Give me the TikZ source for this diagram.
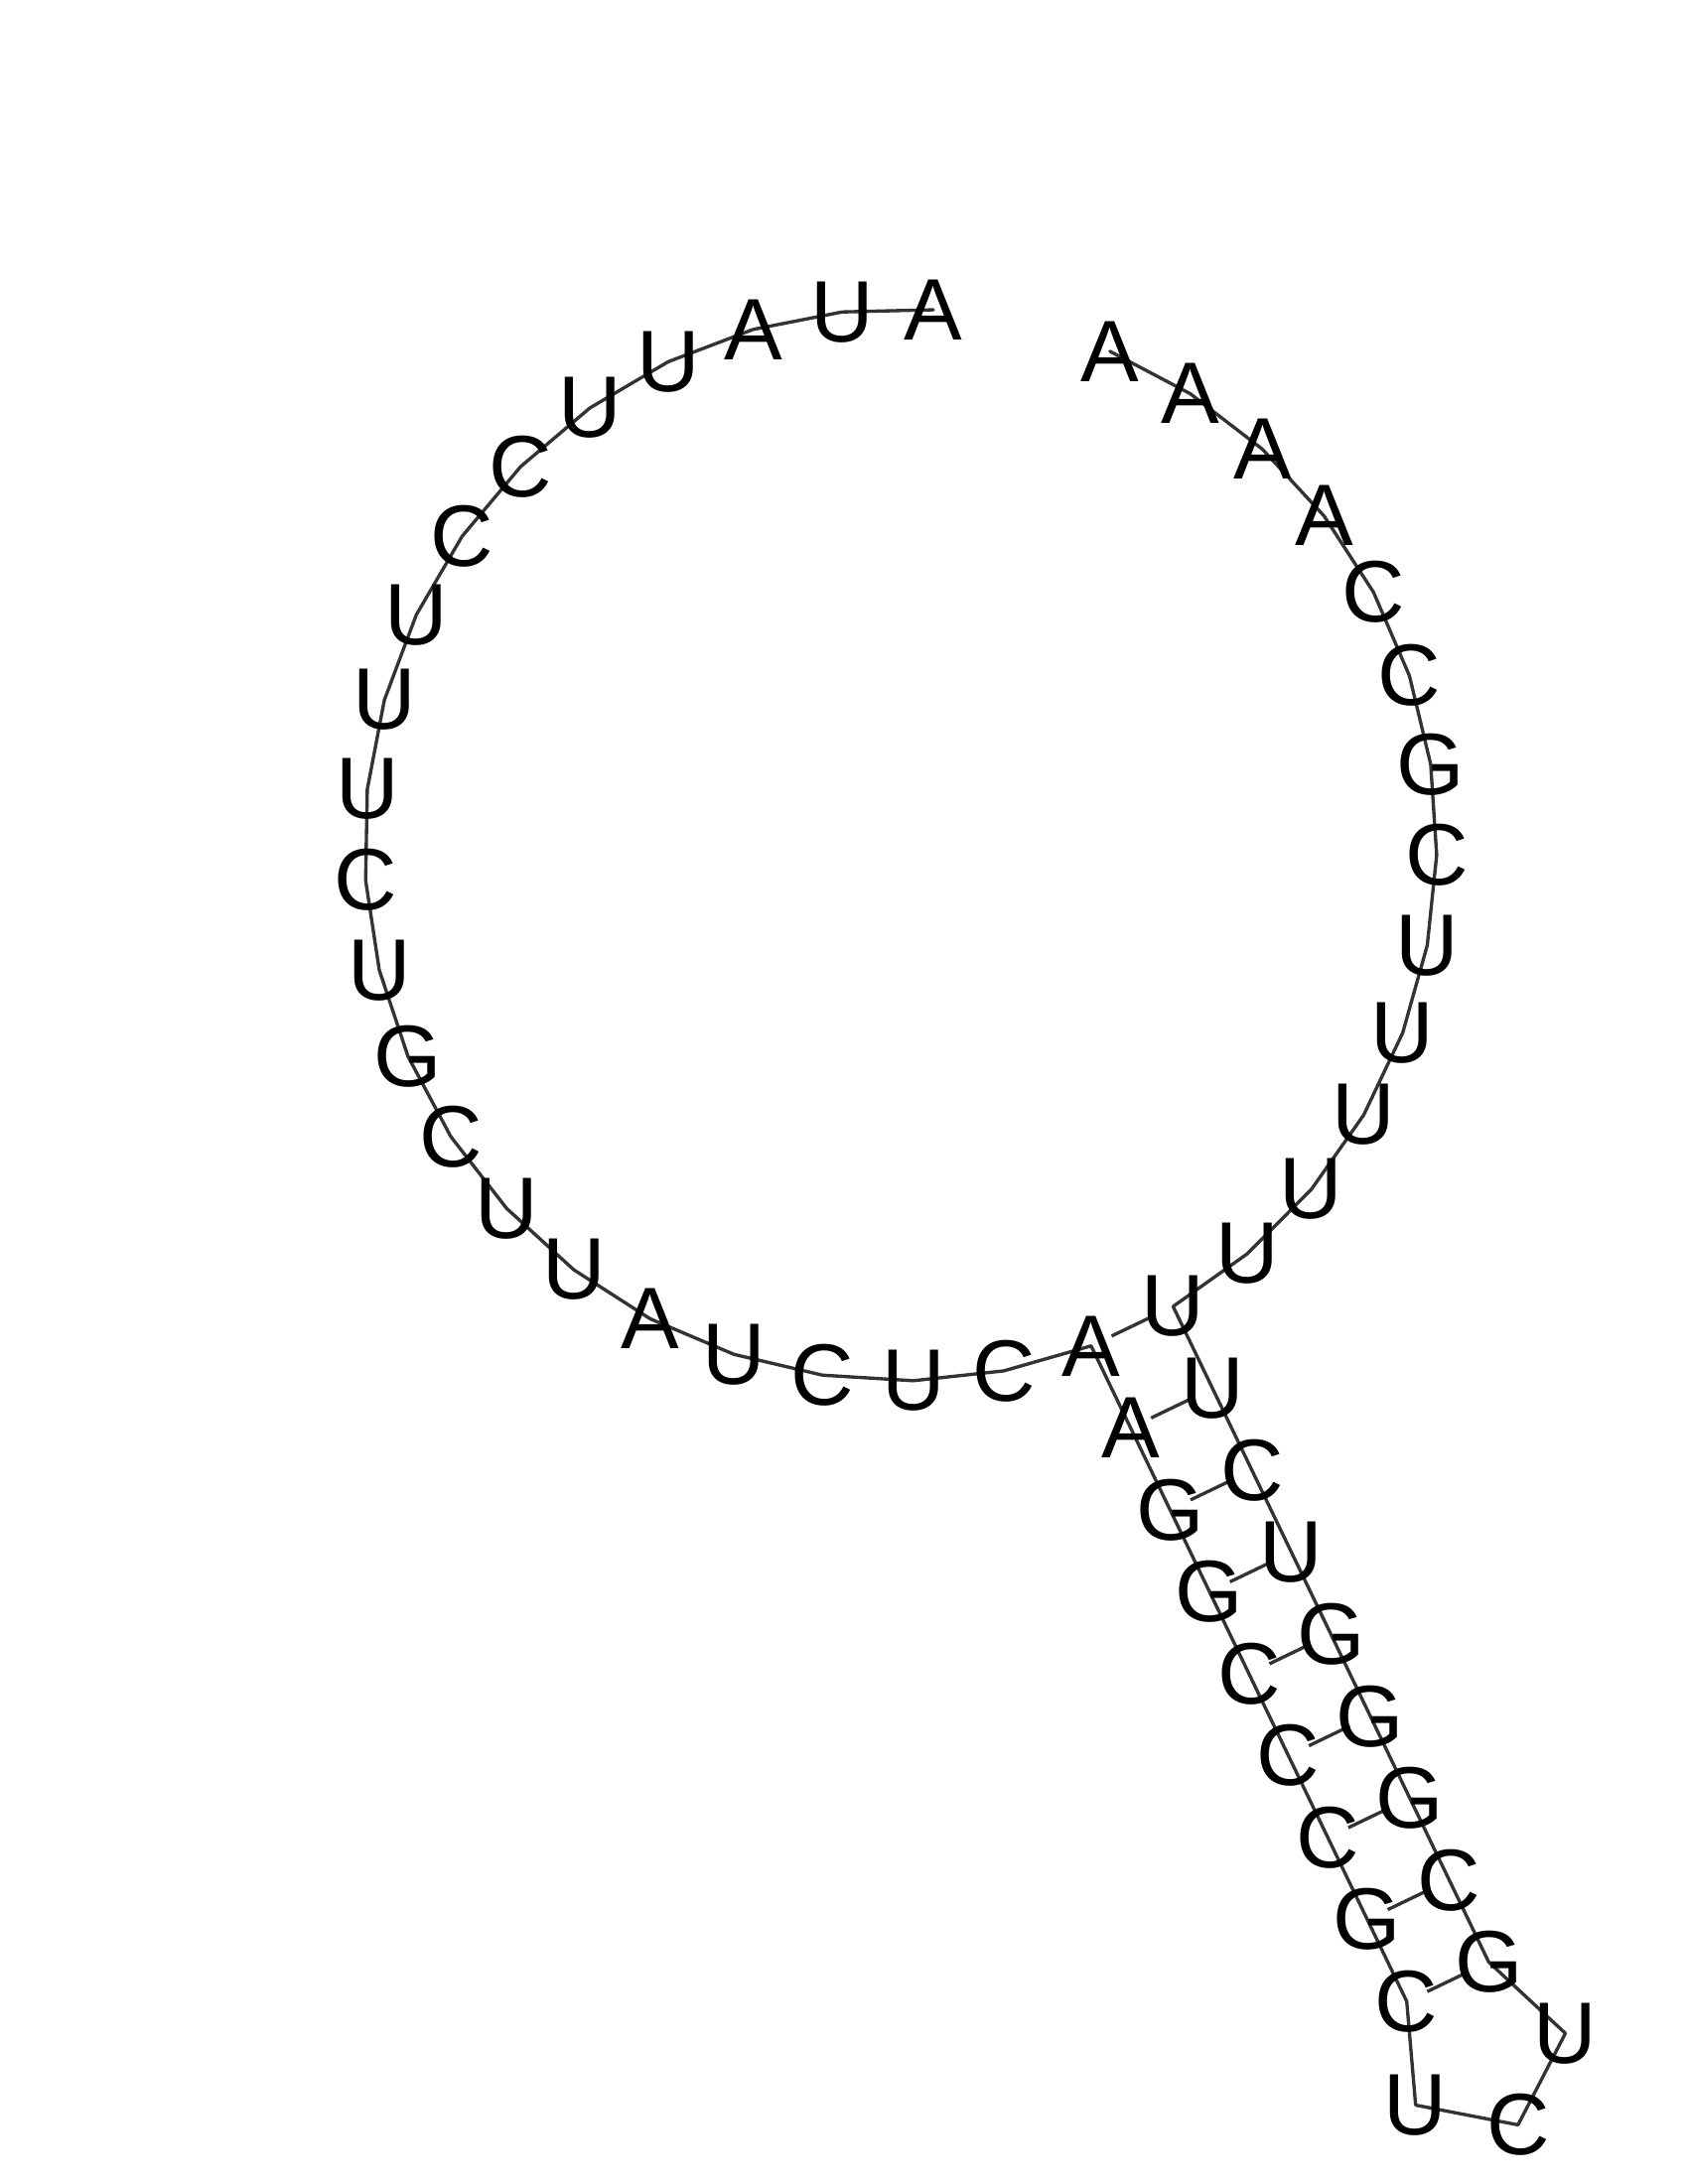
\documentclass[tikz,border=0pt]{standalone}
\usepackage{fontspec}
\setmainfont{Liberation Sans}
\usepackage{tikz}
\usetikzlibrary{calc, backgrounds}

\tikzset{
    base/.style={inner sep=0pt, font=\fontsize{25}{30}\selectfont},
    backbone/.style={draw=black!80, line width=0.95pt, line join=round, line cap=round},
    bond/.style={draw=black!80, line width=0.95pt, shorten <=0.229cm, shorten >=0.229cm}
}

\begin{document}
\begin{tikzpicture}[x=0.01cm, y=-0.01cm]
\useasboundingbox (0,0) rectangle (1700,2200);

\foreach \b [count=\j from 0] in {A,A,A,A,C,C,G,C,U,U,U,U,U,U,A,C,U,C,U,A,U,U,C,G,U,C,U,U,U,C,C,U,U,A,U,A} {
    \pgfmathtruncatemacro{\i}{\j<14 ? \j+1 : \j+20}
    \node[base] (n\i) at ({907+540*sin(22.97+9.7297*\j)}, {851-540*cos(22.97+9.7297*\j)}) {\b};
}
\foreach \b [count=\k] in {U,C,U,G,G,G,C,G} {
    \pgfmathtruncatemacro{\i}{14+\k}
    \node[base] (n\i) at ($(n14)+\k*(39.73,82.54)$) {\b};
}
\foreach \b [count=\k] in {A,G,G,C,C,C,G,C} {
    \pgfmathtruncatemacro{\i}{34-\k}
    \node[base] (n\i) at ($(n34)+\k*(39.73,82.54)$) {\b};
}
\node[base] (n23) at (1576.5,2048.2) {U};
\node[base] (n24) at (1528.8,2140.4) {C};
\node[base] (n25) at (1425.7,2120.5) {U};

\begin{scope}[on background layer]
\draw[backbone] (n1.center) \foreach \i in {2,...,55} { -- (n\i.center) };
\foreach \a/\c in {14/34,15/33,16/32,17/31,18/30,19/29,20/28,21/27,22/26}
    \draw[bond] (n\a.center) -- (n\c.center);
\end{scope}
\end{tikzpicture}
\end{document}
